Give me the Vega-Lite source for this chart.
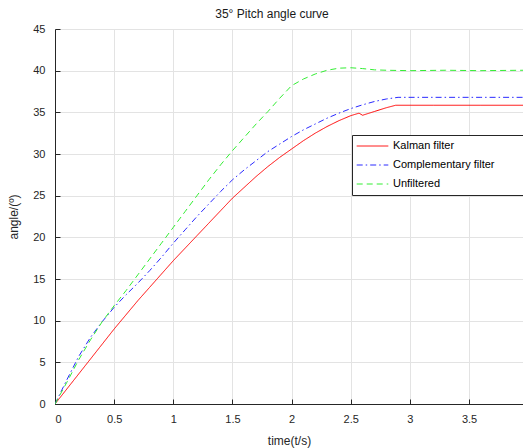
{
  "$schema": "https://vega.github.io/schema/vega-lite/v6.json",
  "width": 468,
  "height": 375,
  "autosize": {"type": "none"},
  "padding": {"left": 55, "top": 29, "right": 0, "bottom": 44},
  "background": "white",
  "config": {
    "font": "Liberation Sans",
    "view": {"stroke": null},
    "axis": {
      "domainColor": "#262626",
      "tickColor": "#262626",
      "labelColor": "#262626",
      "titleColor": "#262626",
      "labelFontSize": 11,
      "titleFontSize": 12,
      "titleFontWeight": "normal",
      "gridColor": "#e3e3e3",
      "gridWidth": 1
    },
    "legend": {
      "strokeColor": "#262626",
      "fillColor": "white",
      "padding": 4,
      "symbolType": "stroke",
      "symbolSize": 1000,
      "symbolStrokeWidth": 1,
      "labelFontSize": 11,
      "labelColor": "#000000",
      "rowPadding": 5,
      "labelOffset": 4,
      "clipHeight": 14,
      "titleOrient": "right",
      "titlePadding": 34,
      "titleFontSize": 11
    }
  },
  "title": {
    "text": "35° Pitch angle curve",
    "fontSize": 12,
    "fontWeight": "normal",
    "color": "#1a1a1a",
    "offset": 2,
    "dx": -17
  },
  "data": {
    "values": [
      {"t": 0, "v": 0, "s": "Kalman filter"},
      {"t": 0.1, "v": 1.8, "s": "Kalman filter"},
      {"t": 0.2, "v": 3.6, "s": "Kalman filter"},
      {"t": 0.3, "v": 5.4, "s": "Kalman filter"},
      {"t": 0.4, "v": 7.2, "s": "Kalman filter"},
      {"t": 0.5, "v": 9.0, "s": "Kalman filter"},
      {"t": 0.6, "v": 10.7, "s": "Kalman filter"},
      {"t": 0.7, "v": 12.4, "s": "Kalman filter"},
      {"t": 0.8, "v": 14.0, "s": "Kalman filter"},
      {"t": 0.9, "v": 15.6, "s": "Kalman filter"},
      {"t": 1.0, "v": 17.2, "s": "Kalman filter"},
      {"t": 1.1, "v": 18.7, "s": "Kalman filter"},
      {"t": 1.2, "v": 20.2, "s": "Kalman filter"},
      {"t": 1.3, "v": 21.7, "s": "Kalman filter"},
      {"t": 1.4, "v": 23.2, "s": "Kalman filter"},
      {"t": 1.5, "v": 24.7, "s": "Kalman filter"},
      {"t": 1.6, "v": 26.0, "s": "Kalman filter"},
      {"t": 1.7, "v": 27.3, "s": "Kalman filter"},
      {"t": 1.8, "v": 28.5, "s": "Kalman filter"},
      {"t": 1.9, "v": 29.6, "s": "Kalman filter"},
      {"t": 2.0, "v": 30.6, "s": "Kalman filter"},
      {"t": 2.1, "v": 31.6, "s": "Kalman filter"},
      {"t": 2.2, "v": 32.5, "s": "Kalman filter"},
      {"t": 2.3, "v": 33.3, "s": "Kalman filter"},
      {"t": 2.4, "v": 34.0, "s": "Kalman filter"},
      {"t": 2.5, "v": 34.6, "s": "Kalman filter"},
      {"t": 2.57, "v": 34.9, "s": "Kalman filter"},
      {"t": 2.6, "v": 34.65, "s": "Kalman filter"},
      {"t": 2.7, "v": 35.1, "s": "Kalman filter"},
      {"t": 2.8, "v": 35.55, "s": "Kalman filter"},
      {"t": 2.88, "v": 35.85, "s": "Kalman filter"},
      {"t": 3.2, "v": 35.85, "s": "Kalman filter"},
      {"t": 3.6, "v": 35.85, "s": "Kalman filter"},
      {"t": 3.96, "v": 35.85, "s": "Kalman filter"},
      {"t": 0, "v": 0, "s": "Complementary filter"},
      {"t": 0.1, "v": 2.9, "s": "Complementary filter"},
      {"t": 0.2, "v": 5.7, "s": "Complementary filter"},
      {"t": 0.3, "v": 8.0, "s": "Complementary filter"},
      {"t": 0.4, "v": 9.9, "s": "Complementary filter"},
      {"t": 0.5, "v": 11.6, "s": "Complementary filter"},
      {"t": 0.6, "v": 13.1, "s": "Complementary filter"},
      {"t": 0.7, "v": 14.5, "s": "Complementary filter"},
      {"t": 0.8, "v": 16.0, "s": "Complementary filter"},
      {"t": 0.9, "v": 17.6, "s": "Complementary filter"},
      {"t": 1.0, "v": 19.3, "s": "Complementary filter"},
      {"t": 1.1, "v": 20.9, "s": "Complementary filter"},
      {"t": 1.2, "v": 22.5, "s": "Complementary filter"},
      {"t": 1.3, "v": 24.0, "s": "Complementary filter"},
      {"t": 1.4, "v": 25.5, "s": "Complementary filter"},
      {"t": 1.5, "v": 26.9, "s": "Complementary filter"},
      {"t": 1.6, "v": 28.1, "s": "Complementary filter"},
      {"t": 1.7, "v": 29.2, "s": "Complementary filter"},
      {"t": 1.8, "v": 30.3, "s": "Complementary filter"},
      {"t": 1.9, "v": 31.2, "s": "Complementary filter"},
      {"t": 2.0, "v": 32.1, "s": "Complementary filter"},
      {"t": 2.1, "v": 32.9, "s": "Complementary filter"},
      {"t": 2.2, "v": 33.6, "s": "Complementary filter"},
      {"t": 2.3, "v": 34.3, "s": "Complementary filter"},
      {"t": 2.4, "v": 34.9, "s": "Complementary filter"},
      {"t": 2.5, "v": 35.45, "s": "Complementary filter"},
      {"t": 2.6, "v": 35.9, "s": "Complementary filter"},
      {"t": 2.7, "v": 36.3, "s": "Complementary filter"},
      {"t": 2.8, "v": 36.6, "s": "Complementary filter"},
      {"t": 2.9, "v": 36.8, "s": "Complementary filter"},
      {"t": 3.2, "v": 36.8, "s": "Complementary filter"},
      {"t": 3.6, "v": 36.8, "s": "Complementary filter"},
      {"t": 3.96, "v": 36.8, "s": "Complementary filter"},
      {"t": 0, "v": 0, "s": "Unfiltered"},
      {"t": 0.1, "v": 2.6, "s": "Unfiltered"},
      {"t": 0.2, "v": 5.3, "s": "Unfiltered"},
      {"t": 0.3, "v": 7.7, "s": "Unfiltered"},
      {"t": 0.4, "v": 9.9, "s": "Unfiltered"},
      {"t": 0.5, "v": 11.8, "s": "Unfiltered"},
      {"t": 0.6, "v": 13.6, "s": "Unfiltered"},
      {"t": 0.7, "v": 15.5, "s": "Unfiltered"},
      {"t": 0.8, "v": 17.4, "s": "Unfiltered"},
      {"t": 0.9, "v": 19.3, "s": "Unfiltered"},
      {"t": 1.0, "v": 21.2, "s": "Unfiltered"},
      {"t": 1.1, "v": 23.1, "s": "Unfiltered"},
      {"t": 1.2, "v": 25.0, "s": "Unfiltered"},
      {"t": 1.3, "v": 26.9, "s": "Unfiltered"},
      {"t": 1.4, "v": 28.7, "s": "Unfiltered"},
      {"t": 1.5, "v": 30.4, "s": "Unfiltered"},
      {"t": 1.6, "v": 32.0, "s": "Unfiltered"},
      {"t": 1.7, "v": 33.6, "s": "Unfiltered"},
      {"t": 1.8, "v": 35.1, "s": "Unfiltered"},
      {"t": 1.9, "v": 36.7, "s": "Unfiltered"},
      {"t": 2.0, "v": 38.2, "s": "Unfiltered"},
      {"t": 2.1, "v": 39.0, "s": "Unfiltered"},
      {"t": 2.2, "v": 39.6, "s": "Unfiltered"},
      {"t": 2.3, "v": 40.05, "s": "Unfiltered"},
      {"t": 2.4, "v": 40.3, "s": "Unfiltered"},
      {"t": 2.5, "v": 40.35, "s": "Unfiltered"},
      {"t": 2.6, "v": 40.25, "s": "Unfiltered"},
      {"t": 2.7, "v": 40.1, "s": "Unfiltered"},
      {"t": 2.8, "v": 40.05, "s": "Unfiltered"},
      {"t": 3.0, "v": 40.0, "s": "Unfiltered"},
      {"t": 3.3, "v": 40.05, "s": "Unfiltered"},
      {"t": 3.6, "v": 40.0, "s": "Unfiltered"},
      {"t": 3.96, "v": 40.05, "s": "Unfiltered"}
    ]
  },
  "mark": {"type": "line", "strokeWidth": 1, "clip": true},
  "encoding": {
    "x": {
      "field": "t",
      "type": "quantitative",
      "scale": {"domain": [0, 3.956], "nice": false, "zero": false},
      "axis": {
        "title": "time(t/s)",
        "values": [0, 0.5, 1, 1.5, 2, 2.5, 3, 3.5],
        "labelExpr": "'' + datum.value",
        "tickSize": -5,
        "labelPadding": 14,
        "titlePadding": 11
      }
    },
    "y": {
      "field": "v",
      "type": "quantitative",
      "scale": {"domain": [0, 45], "nice": false},
      "axis": {
        "title": "angle/(º)",
        "values": [0, 5, 10, 15, 20, 25, 30, 35, 40, 45],
        "tickSize": -5,
        "labelPadding": 15,
        "titlePadding": 12
      }
    },
    "color": {
      "field": "s",
      "type": "nominal",
      "scale": {
        "domain": ["Kalman filter", "Complementary filter", "Unfiltered"],
        "range": ["#ff0000", "#2a2aff", "#33ee33"]
      },
      "legend": {
        "title": " ",
        "orient": "none",
        "legendX": 297,
        "legendY": 106
      }
    },
    "strokeDash": {
      "field": "s",
      "type": "nominal",
      "scale": {
        "domain": ["Kalman filter", "Complementary filter", "Unfiltered"],
        "range": [[1, 0], [6, 3, 1.5, 3], [6, 4]]
      },
      "legend": {
        "title": " ",
        "orient": "none",
        "legendX": 297,
        "legendY": 106
      }
    }
  }
}
